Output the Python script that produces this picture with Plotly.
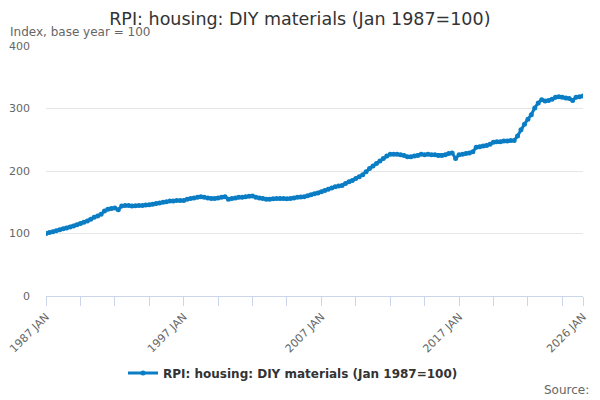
import plotly.graph_objects as go
import pandas as pd

# quarterly readings (Jan, Apr, Jul, Oct) from 1987 Q1 to 2026 Q1
start = "1987-01-01"
values = [
    100, 101.5, 103, 104.5,      # 1987
    106, 107.5, 109, 110.5,      # 1988
    112, 114, 116, 118,          # 1989
    120, 123, 126, 128,          # 1990
    131, 136, 139, 140,          # 1991
    141, 138, 144, 145,          # 1992
    145, 144, 144.5, 145,        # 1993
    145, 145.5, 146, 147,        # 1994
    148, 149, 150, 151,          # 1995
    152, 152, 153, 153,          # 1996
    153, 155, 156, 157,          # 1997
    158, 159, 158, 157,          # 1998
    156, 156, 157, 158,          # 1999
    159, 155, 156, 157,          # 2000
    158, 158, 159, 159.5,        # 2001
    160, 158, 157, 156,          # 2002
    155, 155, 155.5, 156,        # 2003
    156, 156, 155.5, 156,        # 2004
    157, 158, 158.5, 159,        # 2005
    160.5, 162, 163.5, 165,      # 2006
    167, 169, 171, 173,          # 2007
    175, 176, 177, 180,          # 2008
    183, 185, 188, 191,          # 2009
    194, 199, 204, 208,          # 2010
    212, 216, 220, 224,          # 2011
    227, 227, 227, 226,          # 2012
    225, 223, 223, 224,          # 2013
    225, 227, 226, 227,          # 2014
    226, 226, 225, 225,          # 2015
    226, 228, 229, 220,          # 2016
    226, 227, 228, 229,          # 2017
    231, 238, 239, 240,          # 2018
    241, 243, 246, 247,          # 2019
    247, 248, 248, 249,          # 2020
    249, 256, 266, 275,          # 2021
    283, 290, 301, 309,          # 2022
    314, 312, 313, 315,          # 2023
    318, 319, 318, 317,          # 2024
    316, 313, 318, 319,          # 2025
    320,                         # 2026
]
dates = pd.date_range(start=start, periods=len(values), freq="QS")

tick_dates = list(pd.date_range(start=start, end="2025-12-31", freq="30MS")) + [pd.Timestamp("2026-01-01")]
tick_labels = {1987: "1987 JAN", 1997: "1997 JAN", 2007: "2007 JAN", 2017: "2017 JAN", 2026: "2026 JAN"}
tick_text = [tick_labels.get(d.year, "") if d.month == 1 else "" for d in tick_dates]

series_name = "RPI: housing: DIY materials (Jan 1987=100)"
blue = "#0a7dc4"

fig = go.Figure()
fig.add_trace(
    go.Scatter(
        x=dates,
        y=values,
        mode="lines+markers",
        name=series_name,
        line=dict(color=blue, width=3),
        marker=dict(color=blue, size=5),
    )
)

# page body has an 8px margin, so the figure is drawn 8px smaller
fig.update_layout(
    width=592,
    height=392,
    margin=dict(l=38, r=17, t=38, b=104),
    paper_bgcolor="white",
    plot_bgcolor="white",
    font=dict(family="DejaVu Sans", color="#666666", size=11),
    title=dict(
        text="RPI: housing: DIY materials (Jan 1987=100)",
        x=0.493,
        xanchor="center",
        y=0.972,
        yanchor="middle",
        font=dict(size=17.5, color="#333333"),
    ),
    showlegend=True,
    legend=dict(
        orientation="h",
        x=0.46,
        xanchor="center",
        y=-0.308,
        yanchor="middle",
        font=dict(size=12, color="#333333", weight="bold"),
    ),
    xaxis=dict(
        range=[dates[0], dates[-1]],
        tickmode="array",
        tickvals=tick_dates,
        ticktext=tick_text,
        tickangle=-45,
        ticks="outside",
        ticklen=9,
        tickcolor="#ccd6eb",
        showline=True,
        linecolor="#ccd6eb",
        showgrid=False,
        zeroline=False,
        automargin=False,
        ticklabeloverflow="allow",
        tickfont=dict(size=11, color="#666666"),
    ),
    yaxis=dict(
        range=[0, 400],
        tickvals=[0, 100, 200, 300, 400],
        showgrid=True,
        gridcolor="#e6e6e6",
        zeroline=False,
        showline=False,
        ticks="",
        ticklabelstandoff=15,
        automargin=False,
        tickfont=dict(size=11, color="#666666"),
    ),
    annotations=[
        dict(
            text="Index, base year = 100",
            xref="paper", yref="paper",
            x=-0.071, y=1.056,
            xanchor="left", yanchor="middle",
            showarrow=False,
            font=dict(size=12, color="#666666"),
        ),
        dict(
            text="Source:",
            xref="paper", yref="paper",
            x=1.015, y=-0.376,
            xanchor="right", yanchor="middle",
            showarrow=False,
            font=dict(size=12, color="#666666"),
        ),
    ],
)

fig.write_html("out.html")
